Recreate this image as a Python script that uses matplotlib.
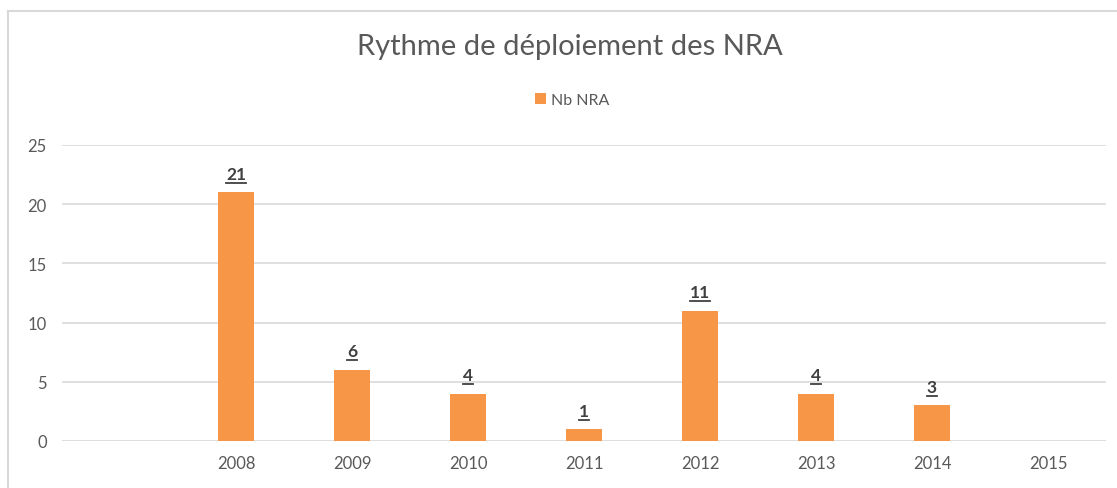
import matplotlib
matplotlib.use("Agg")
import matplotlib.pyplot as plt
from matplotlib.lines import Line2D

categories = ["", "2008", "2009", "2010", "2011", "2012", "2013", "2014", "2015"]
values = [None, 21, 6, 4, 1, 11, 4, 3, None]
yticks = [0, 5, 10, 15, 20, 25]

plt.rcParams['font.family'] = ['Lato', 'DejaVu Sans']

fig = plt.figure(figsize=(11.17, 4.89), dpi=100)
ax = fig.add_axes([62 / 1117, 1 - 442 / 489, (1106 - 62) / 1117, (442 - 146) / 489])

xs = list(range(len(categories)))
heights = [v if v is not None else 0 for v in values]
bars = ax.bar(xs, heights, width=0.31, color="#F79646", zorder=3)

labels = []
for x, v in zip(xs, values):
    if v is None:
        continue
    t = ax.text(x, v + 0.9, str(v), ha="center", va="bottom", fontsize=12.5,
                fontweight="bold", color="#404040", zorder=4)
    labels.append(t)

ax.set_xlim(-0.5, len(categories) - 0.5)
ax.set_ylim(0, 25)
ax.set_yticks(yticks)
ax.set_xticks(xs)
ax.set_xticklabels(categories)
ax.yaxis.grid(True, color="#D9D9D9", linewidth=1.2, zorder=0)
for s in ax.spines.values():
    s.set_visible(False)
ax.tick_params(axis="both", length=0, labelsize=12, colors="#595959")
ax.tick_params(axis="y", pad=11)
ax.tick_params(axis="x", pad=10)

fig.text(570 / 1117, 1 - 47 / 489, "Rythme de déploiement des NRA", ha="center", va="center",
         fontsize=21, color="#595959")

leg = ax.legend([bars], ["Nb NRA"], loc="center", bbox_to_anchor=(572 / 1117, 1 - 101 / 489),
                bbox_transform=fig.transFigure, frameon=False, fontsize=11.5,
                handlelength=0.7, handleheight=0.7, handletextpad=0.3, labelcolor="#595959")

# underline the data labels
fig.canvas.draw()
r = fig.canvas.get_renderer()
for t in labels:
    bb = t.get_window_extent(r)
    y = bb.y0 - 1
    fig.add_artist(Line2D([bb.x0 / 1117, bb.x1 / 1117], [y / 489, y / 489],
                          transform=fig.transFigure, color="#404040", linewidth=1.3))

# chart frame (top and left edge)
fig.add_artist(Line2D([8 / 1117, 1], [1 - 12 / 489, 1 - 12 / 489], transform=fig.transFigure,
                      color="#D9D9D9", linewidth=1.5))
fig.add_artist(Line2D([8 / 1117, 8 / 1117], [0, 1 - 12 / 489], transform=fig.transFigure,
                      color="#D9D9D9", linewidth=1.5))

fig.savefig("out.png", dpi=100, facecolor="white")
